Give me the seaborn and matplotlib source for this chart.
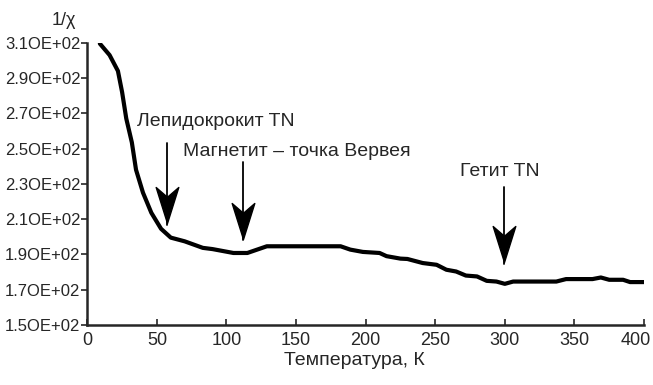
import matplotlib

matplotlib.use("Agg")
import matplotlib.pyplot as plt
import pandas as pd
import seaborn as sns
from matplotlib.path import Path
from matplotlib.transforms import ScaledTranslation

# 1/chi vs temperature
temperature = [9, 16, 22, 25, 28, 32, 35, 40, 46, 53, 60, 70, 83, 90, 105, 115,
               129, 182, 189, 198, 210, 215, 225, 230, 241, 251, 258, 265, 272,
               280, 287, 294, 300, 306, 337, 344, 363, 369, 375, 385, 390, 400]
inv_chi = [309.5, 303, 294, 282, 267, 253.5, 238, 225, 213.6, 204.5, 199.5,
           197.4, 193.7, 193, 190.8, 190.8, 194.6, 194.6, 192.7, 191.4, 190.8,
           189, 187.6, 187.4, 185.1, 184.1, 181.3, 180.3, 178, 177.5, 175,
           174.6, 173.3, 174.6, 174.6, 176, 176, 176.9, 175.6, 175.6, 174.3,
           174.3]

y_ticks = [150, 170, 190, 210, 230, 250, 270, 290, 310]
y_tick_labels = ["1.5OE+02", "1.7OE+02", "1.9OE+02", "2.1OE+02", "2.3OE+02",
                 "2.5OE+02", "2.7OE+02", "2.9OE+02", "3.1OE+02"]
x_ticks = [0, 50, 100, 150, 200, 250, 300, 350, 400]

# annotations: label, arrow x, arrow top, arrow tip, text x, text y
labels = ["Лепидокрокит TN", "Магнетит – точка Вервея", "Гетит TN"]
arrow_x = [57.5, 112, 299.4]
arrow_top = [253, 242.6, 228]
arrow_tip = [207.8, 199, 185.8]
text_x = [35.5, 68.7, 267.7]
text_y = [265.2, 248.2, 236.9]

sns.set_style("ticks")
plt.rcParams["font.family"] = ["Liberation Sans", "DejaVu Sans"]

df = pd.DataFrame({"T": temperature, "inv_chi": inv_chi})

fig = plt.figure(figsize=(6.53, 3.85), dpi=100)
ax = fig.add_axes([0.1337, 0.156, 0.8525, 0.733])

sns.lineplot(data=df, x="T", y="inv_chi", color="black", linewidth=3, ax=ax)

# slender barbed arrow head (tip at bottom)
head = Path(
    [(0, -17.5), (-11, 17.5), (0, 8), (11, 17.5), (0, -17.5)],
    [Path.MOVETO, Path.LINETO, Path.LINETO, Path.LINETO, Path.CLOSEPOLY],
)
head_px = 36  # full height of the head in pixels
px_per_unit = 0.733 * 385 / 160

for lab, ax_x, top, tip, tx, ty in zip(labels, arrow_x, arrow_top, arrow_tip,
                                       text_x, text_y):
    ax.plot([ax_x, ax_x], [top, tip - 1], color="black", linewidth=1.3)
    ax.plot([ax_x], [tip + head_px / 2 / px_per_unit], marker=head,
            markersize=head_px * 72 / 100, color="black", linestyle="none")
    ax.text(tx, ty, lab, fontsize=14, ha="left", va="center")

ax.set_xlim(0, 400)
ax.set_ylim(150, 310)
ax.set_xticks(x_ticks)
ax.set_yticks(y_ticks)
ax.set_yticklabels(y_tick_labels)
ax.tick_params(axis="x", direction="in", length=4, width=1.2, labelsize=13,
               pad=5)
ax.tick_params(axis="y", direction="out", length=4, width=1.2, labelsize=12,
               pad=1)
for s in ["left", "bottom"]:
    ax.spines[s].set_linewidth(1.8)
sns.despine(ax=ax)

# keep the last x label inside the figure, as in the reference
last = ax.get_xticklabels()[-1]
last.set_transform(last.get_transform()
                   + ScaledTranslation(-8 / 100, 0, fig.dpi_scale_trans))

ax.set_xlabel("Температура, К", fontsize=14, x=0.479, labelpad=2)
ax.set_ylabel("")
fig.text(64 / 653, 1 - 20.7 / 385, "1/χ", fontsize=13, ha="center",
         va="center")

fig.savefig("out.png", dpi=100)
